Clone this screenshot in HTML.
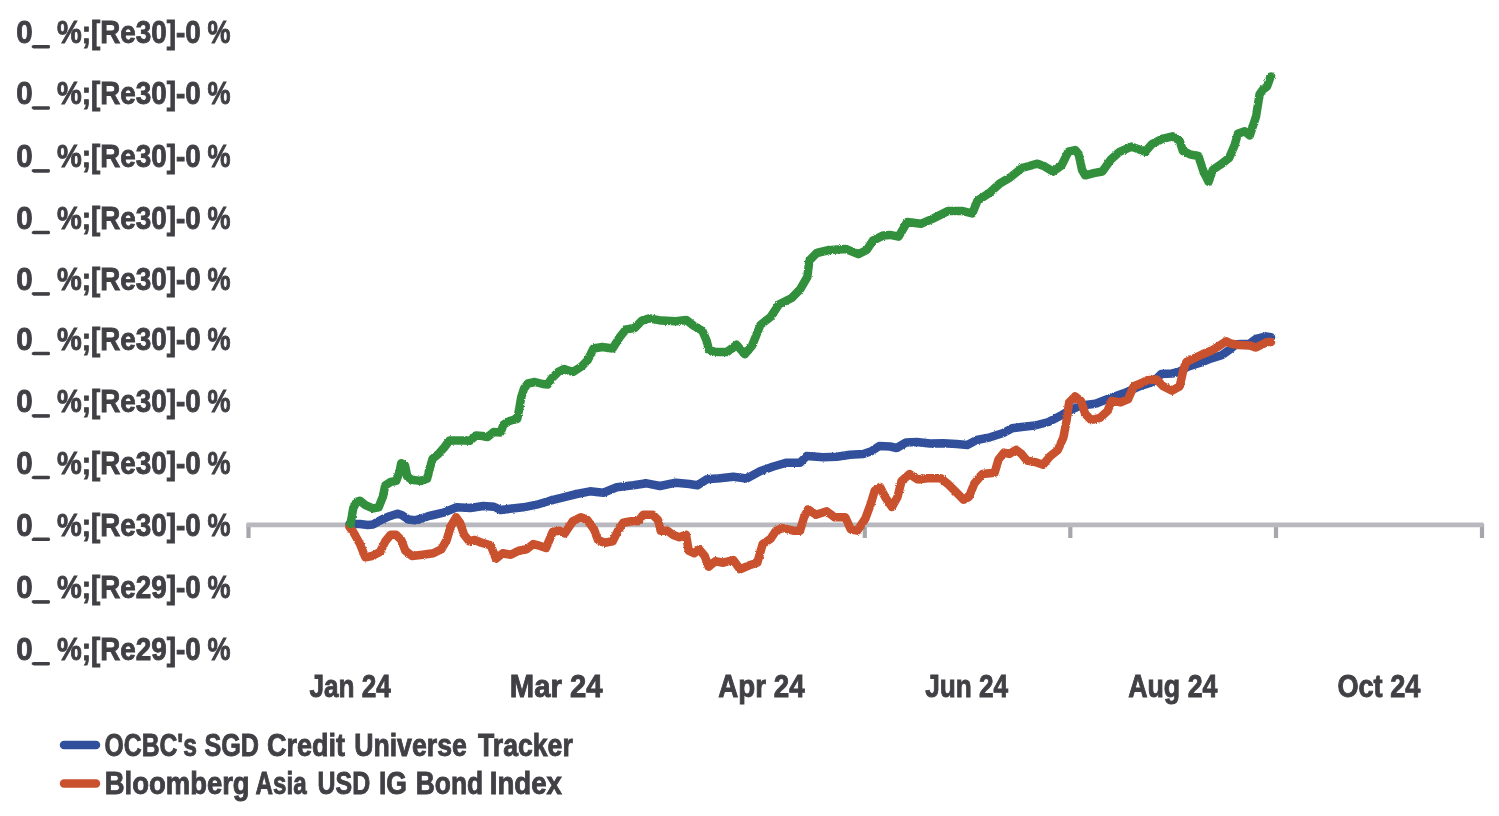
<!DOCTYPE html>
<html><head><meta charset="utf-8"><style>
html,body{margin:0;padding:0;background:#fff;width:1499px;height:816px;overflow:hidden}
svg{position:absolute;left:0;top:0;display:block;filter:blur(0.7px)}
text{font-family:"Liberation Sans",sans-serif;font-weight:bold;font-size:32.0px;fill:#404045;stroke:#404045;stroke-width:0.9px}
</style></head><body>
<svg width="1499" height="816" viewBox="0 0 1499 816">
<g fill="#404045"><rect x="32.6" y="45.10" width="17.2" height="3.4" rx="1.3"/><rect x="32.6" y="106.42" width="17.2" height="3.4" rx="1.3"/><rect x="32.6" y="169.24" width="17.2" height="3.4" rx="1.3"/><rect x="32.6" y="230.86" width="17.2" height="3.4" rx="1.3"/><rect x="32.6" y="292.28" width="17.2" height="3.4" rx="1.3"/><rect x="32.6" y="351.80" width="17.2" height="3.4" rx="1.3"/><rect x="32.6" y="414.32" width="17.2" height="3.4" rx="1.3"/><rect x="32.6" y="475.74" width="17.2" height="3.4" rx="1.3"/><rect x="32.6" y="537.56" width="17.2" height="3.4" rx="1.3"/><rect x="32.6" y="600.28" width="17.2" height="3.4" rx="1.3"/><rect x="32.6" y="662.00" width="17.2" height="3.4" rx="1.3"/></g>
<g class="t">
<text x="16.20" y="43.10" textLength="32.80" lengthAdjust="spacingAndGlyphs">0_</text>
<text x="57.00" y="43.10" textLength="143.80" lengthAdjust="spacingAndGlyphs">%;[Re30]-0</text>
<text x="207.60" y="43.10" textLength="23.00" lengthAdjust="spacingAndGlyphs">%</text>
<text x="16.20" y="104.42" textLength="32.80" lengthAdjust="spacingAndGlyphs">0_</text>
<text x="57.00" y="104.42" textLength="143.80" lengthAdjust="spacingAndGlyphs">%;[Re30]-0</text>
<text x="207.60" y="104.42" textLength="23.00" lengthAdjust="spacingAndGlyphs">%</text>
<text x="16.20" y="167.24" textLength="32.80" lengthAdjust="spacingAndGlyphs">0_</text>
<text x="57.00" y="167.24" textLength="143.80" lengthAdjust="spacingAndGlyphs">%;[Re30]-0</text>
<text x="207.60" y="167.24" textLength="23.00" lengthAdjust="spacingAndGlyphs">%</text>
<text x="16.20" y="228.86" textLength="32.80" lengthAdjust="spacingAndGlyphs">0_</text>
<text x="57.00" y="228.86" textLength="143.80" lengthAdjust="spacingAndGlyphs">%;[Re30]-0</text>
<text x="207.60" y="228.86" textLength="23.00" lengthAdjust="spacingAndGlyphs">%</text>
<text x="16.20" y="290.28" textLength="32.80" lengthAdjust="spacingAndGlyphs">0_</text>
<text x="57.00" y="290.28" textLength="143.80" lengthAdjust="spacingAndGlyphs">%;[Re30]-0</text>
<text x="207.60" y="290.28" textLength="23.00" lengthAdjust="spacingAndGlyphs">%</text>
<text x="16.20" y="349.80" textLength="32.80" lengthAdjust="spacingAndGlyphs">0_</text>
<text x="57.00" y="349.80" textLength="143.80" lengthAdjust="spacingAndGlyphs">%;[Re30]-0</text>
<text x="207.60" y="349.80" textLength="23.00" lengthAdjust="spacingAndGlyphs">%</text>
<text x="16.20" y="412.32" textLength="32.80" lengthAdjust="spacingAndGlyphs">0_</text>
<text x="57.00" y="412.32" textLength="143.80" lengthAdjust="spacingAndGlyphs">%;[Re30]-0</text>
<text x="207.60" y="412.32" textLength="23.00" lengthAdjust="spacingAndGlyphs">%</text>
<text x="16.20" y="473.74" textLength="32.80" lengthAdjust="spacingAndGlyphs">0_</text>
<text x="57.00" y="473.74" textLength="143.80" lengthAdjust="spacingAndGlyphs">%;[Re30]-0</text>
<text x="207.60" y="473.74" textLength="23.00" lengthAdjust="spacingAndGlyphs">%</text>
<text x="16.20" y="535.56" textLength="32.80" lengthAdjust="spacingAndGlyphs">0_</text>
<text x="57.00" y="535.56" textLength="143.80" lengthAdjust="spacingAndGlyphs">%;[Re30]-0</text>
<text x="207.60" y="535.56" textLength="23.00" lengthAdjust="spacingAndGlyphs">%</text>
<text x="16.20" y="598.28" textLength="32.80" lengthAdjust="spacingAndGlyphs">0_</text>
<text x="57.00" y="598.28" textLength="143.80" lengthAdjust="spacingAndGlyphs">%;[Re29]-0</text>
<text x="207.60" y="598.28" textLength="23.00" lengthAdjust="spacingAndGlyphs">%</text>
<text x="16.20" y="660.00" textLength="32.80" lengthAdjust="spacingAndGlyphs">0_</text>
<text x="57.00" y="660.00" textLength="143.80" lengthAdjust="spacingAndGlyphs">%;[Re29]-0</text>
<text x="207.60" y="660.00" textLength="23.00" lengthAdjust="spacingAndGlyphs">%</text>
<text x="309.40" y="697.20" textLength="81.40" lengthAdjust="spacingAndGlyphs">Jan 24</text>
<text x="509.80" y="697.20" textLength="92.80" lengthAdjust="spacingAndGlyphs">Mar 24</text>
<text x="718.20" y="697.20" textLength="86.40" lengthAdjust="spacingAndGlyphs">Apr 24</text>
<text x="925.20" y="697.20" textLength="83.00" lengthAdjust="spacingAndGlyphs">Jun 24</text>
<text x="1128.20" y="697.20" textLength="89.20" lengthAdjust="spacingAndGlyphs">Aug 24</text>
<text x="1337.40" y="697.20" textLength="83.00" lengthAdjust="spacingAndGlyphs">Oct 24</text>
<text x="104.60" y="756.40" textLength="92.40" lengthAdjust="spacingAndGlyphs">OCBC's</text>
<text x="204.40" y="756.40" textLength="54.60" lengthAdjust="spacingAndGlyphs">SGD</text>
<text x="267.00" y="756.40" textLength="78.00" lengthAdjust="spacingAndGlyphs">Credit</text>
<text x="354.20" y="756.40" textLength="112.60" lengthAdjust="spacingAndGlyphs">Universe</text>
<text x="478.00" y="756.40" textLength="94.80" lengthAdjust="spacingAndGlyphs">Tracker</text>
<text x="104.80" y="794.00" textLength="144.80" lengthAdjust="spacingAndGlyphs">Bloomberg</text>
<text x="255.60" y="794.00" textLength="51.00" lengthAdjust="spacingAndGlyphs">Asia</text>
<text x="317.60" y="794.00" textLength="52.60" lengthAdjust="spacingAndGlyphs">USD</text>
<text x="379.00" y="794.00" textLength="28.00" lengthAdjust="spacingAndGlyphs">IG</text>
<text x="415.80" y="794.00" textLength="67.40" lengthAdjust="spacingAndGlyphs">Bond</text>
<text x="489.80" y="794.00" textLength="72.20" lengthAdjust="spacingAndGlyphs">Index</text>
</g>
<g stroke="#a6a6ac" stroke-width="4.2"><line x1="248.5" y1="524" x2="248.5" y2="538" /><line x1="864.8" y1="524" x2="864.8" y2="538" /><line x1="1070.3" y1="524" x2="1070.3" y2="538" /><line x1="1276" y1="524" x2="1276" y2="538" /><line x1="1482" y1="524" x2="1482" y2="538" /></g>
<line x1="246.5" y1="524.9" x2="1483.5" y2="524.9" stroke="#b8b8be" stroke-width="4.6"/>
<defs><filter id="rough" x="-2%" y="-5%" width="104%" height="110%"><feTurbulence type="fractalNoise" baseFrequency="0.9" numOctaves="1" seed="3" result="n"/><feDisplacementMap in="SourceGraphic" in2="n" scale="2.5" xChannelSelector="R" yChannelSelector="G"/></filter></defs>
<g fill="none" stroke-width="8.5" stroke-linejoin="round" stroke-linecap="round" filter="url(#rough)">
<path stroke="#30509c" d="M349.5 524.0L360.0 524.0L367.6 525.0L373.0 524.5L381.9 519.5L389.6 516.2L397.3 513.7L401.7 515.0L408.4 519.5L415.0 520.3L421.6 518.4L428.2 516.2L433.5 515.0L443.3 512.7L456.7 507.3L470.0 508.0L483.3 506.0L494.0 506.7L500.7 510.0L510.0 508.7L523.3 507.3L536.7 504.7L550.0 500.7L563.3 497.3L576.7 494.0L590.0 491.3L603.3 492.7L616.7 487.3L633.3 485.3L646.7 483.3L660.0 486.0L676.0 482.7L689.3 484.0L697.3 485.3L706.7 479.3L720.0 478.2L733.3 476.8L746.7 478.5L760.0 471.3L773.3 466.5L786.7 462.7L800.0 462.7L806.7 456.0L823.3 457.3L836.7 456.7L850.0 454.7L863.3 454.0L871.3 451.3L879.3 446.0L890.0 446.5L896.7 448.0L906.0 442.5L916.7 442.0L930.0 443.5L943.3 443.3L956.7 444.0L967.3 445.0L976.7 440.0L990.0 437.3L1003.3 433.0L1012.1 428.3L1021.5 427.0L1035.0 425.5L1048.5 422.0L1061.9 415.0L1068.7 411.0L1080.9 405.5L1095.6 403.8L1110.3 397.9L1125.0 392.8L1139.7 386.2L1150.0 383.0L1155.5 380.0L1161.0 374.1L1172.1 373.5L1178.7 371.9L1188.6 366.4L1199.7 363.0L1210.7 358.6L1221.7 355.3L1229.5 349.8L1236.1 344.3L1249.3 343.8L1256.0 338.8L1265.9 336.5L1271.0 337.2"/>
<path stroke="#c9512e" d="M349.3 526.7L353.3 532.0L360.0 544.0L365.3 557.3L372.0 556.0L380.0 552.0L385.3 541.3L390.7 534.7L396.0 534.7L401.3 540.0L405.3 550.7L412.0 556.0L422.7 554.7L433.3 553.3L441.3 549.3L446.7 540.0L450.7 526.7L456.0 517.3L460.0 522.7L464.0 534.7L469.3 541.3L474.7 540.0L481.3 542.7L490.7 545.3L496.0 558.7L502.7 553.3L510.7 554.7L518.7 550.7L526.7 549.3L533.3 544.0L538.0 545.3L546.0 548.0L552.7 532.0L559.3 530.7L564.7 533.3L572.7 521.3L580.7 517.3L587.3 520.0L594.0 529.3L598.0 540.0L604.7 542.7L612.7 541.3L618.0 530.7L623.3 522.7L631.3 521.3L638.0 521.3L643.3 514.7L652.7 514.7L658.0 520.0L660.7 530.7L667.3 530.7L672.7 534.7L679.3 537.3L686.0 534.7L688.7 550.7L694.0 553.3L699.3 549.3L704.7 556.0L708.7 566.7L715.3 561.3L723.3 562.7L733.3 560.0L740.0 569.3L749.3 565.3L757.3 562.7L762.7 544.0L770.7 538.7L776.0 530.7L782.7 528.0L793.3 530.7L800.0 530.7L804.0 517.3L808.0 509.3L816.0 514.7L826.7 511.3L834.7 517.3L845.3 517.3L850.7 529.3L857.3 530.7L865.3 518.7L870.7 504.0L874.7 490.7L880.0 487.0L885.3 497.3L892.0 507.0L897.5 497.0L901.6 480.9L909.6 474.1L917.7 479.5L927.2 478.2L940.6 478.2L947.4 483.6L955.5 491.6L963.6 499.7L968.9 497.0L974.3 483.6L982.4 474.1L994.6 472.8L998.6 459.3L1004.0 452.6L1009.4 453.9L1016.1 449.9L1021.5 453.9L1026.9 460.6L1035.0 462.0L1043.1 464.7L1049.8 456.6L1057.9 449.9L1063.3 437.7L1066.2 423.0L1069.1 402.4L1075.0 396.5L1080.9 400.9L1085.3 414.1L1091.2 420.0L1100.0 417.8L1107.4 411.2L1111.8 400.9L1120.6 402.4L1127.9 399.4L1133.8 386.2L1141.2 383.2L1147.1 380.3L1156.6 379.6L1163.2 386.2L1172.1 390.6L1179.8 386.2L1183.1 370.8L1186.4 362.0L1194.2 358.2L1203.0 354.0L1211.8 350.5L1218.4 346.3L1226.2 341.2L1230.6 343.5L1238.3 345.0L1249.3 345.4L1256.0 347.5L1262.6 344.3L1267.0 342.1L1271.0 342.1"/>
<path stroke="#33903e" d="M350.5 523.9L353.2 508.4L356.5 501.8L359.8 500.7L365.4 505.1L373.0 508.4L378.6 507.3L383.0 496.3L385.2 485.3L390.7 482.0L396.2 480.9L399.5 472.0L401.2 463.2L405.0 465.4L407.3 476.5L411.7 479.8L420.5 480.9L427.1 478.7L429.3 469.8L432.6 458.8L438.4 454.0L444.3 447.4L449.4 440.5L456.8 440.5L464.1 440.5L470.0 440.7L475.9 435.6L482.5 436.0L487.6 437.0L493.6 432.0L500.5 432.5L503.5 424.7L509.4 421.0L517.3 418.8L519.2 409.0L521.2 397.3L524.1 388.4L528.0 383.5L534.9 382.0L542.7 384.0L547.6 384.5L551.6 378.6L558.4 371.8L564.0 369.0L573.0 372.0L581.8 366.2L587.6 360.3L593.5 348.5L602.4 347.0L612.6 348.5L620.0 336.8L625.9 329.4L634.7 328.0L642.0 320.6L649.4 318.4L661.2 320.6L675.9 321.3L686.2 319.9L693.5 325.7L702.4 330.9L706.8 341.2L709.0 350.0L716.7 352.0L727.0 352.0L736.5 344.8L744.8 354.2L752.0 345.8L760.4 325.0L770.8 316.7L779.2 304.2L791.7 298.0L800.0 289.6L807.3 277.0L809.4 260.4L816.7 253.0L829.2 250.0L845.8 249.0L858.3 254.2L866.7 250.0L872.9 240.6L883.3 235.4L890.0 234.9L898.6 236.6L907.2 222.0L920.9 223.8L932.9 218.6L948.3 210.9L962.0 210.9L972.3 213.5L977.5 200.6L989.5 192.9L999.8 183.5L1010.0 177.5L1022.0 168.0L1037.5 163.7L1044.4 166.3L1053.0 171.5L1061.5 165.5L1068.4 151.7L1075.2 150.0L1078.7 154.3L1082.1 170.0L1085.3 175.5L1093.7 173.2L1102.3 171.5L1110.9 159.5L1119.5 151.8L1131.5 146.6L1145.2 151.8L1152.0 144.0L1162.3 138.9L1172.6 136.3L1179.5 140.6L1182.9 150.9L1189.8 154.3L1198.4 156.0L1203.5 171.5L1208.6 181.8L1212.9 169.8L1220.6 164.6L1229.2 157.8L1234.4 145.8L1237.8 133.8L1244.7 131.2L1249.8 135.5L1256.0 116.6L1259.6 94.3L1263.0 89.5L1267.0 86.6L1270.4 77.2L1271.2 76.5"/>
</g>
<g stroke-width="8.5" stroke-linecap="round">
<line x1="64" y1="745" x2="96" y2="745" stroke="#30509c"/>
<line x1="64" y1="783.5" x2="96" y2="783.5" stroke="#c9512e"/>
</g>
</svg>
</body></html>
